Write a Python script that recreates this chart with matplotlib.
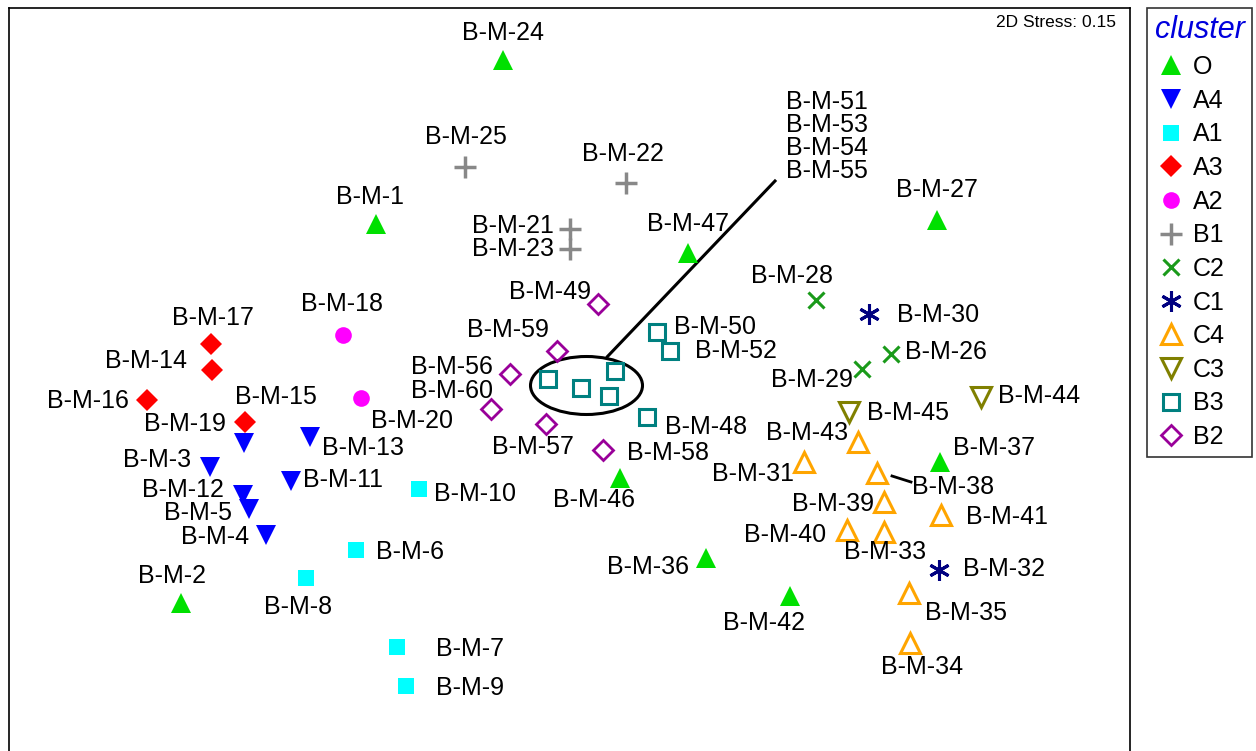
import matplotlib
matplotlib.use("Agg")
import matplotlib.pyplot as plt
from matplotlib.patches import Ellipse
from matplotlib.lines import Line2D

plt.rcParams['font.family'] = ['Liberation Sans', 'DejaVu Sans']

# NMDS ordination coordinates (arbitrary units; y grows downward)
names = ["B-M-24", "B-M-1", "B-M-47", "B-M-27", "B-M-2", "B-M-46", "B-M-36", "B-M-42", "B-M-37",
         "B-M-19", "B-M-13", "B-M-3", "B-M-11", "B-M-12", "B-M-5", "B-M-4",
         "B-M-10", "B-M-6", "B-M-8", "B-M-7", "B-M-9",
         "B-M-17", "B-M-14", "B-M-16", "B-M-15",
         "B-M-18", "B-M-20",
         "B-M-25", "B-M-22", "B-M-21", "B-M-23",
         "B-M-28", "B-M-26", "B-M-29",
         "B-M-30", "B-M-32",
         "B-M-43", "B-M-31", "B-M-38", "B-M-39", "B-M-40", "B-M-33", "B-M-41", "B-M-35", "B-M-34",
         "B-M-45", "B-M-44",
         "B-M-50", "B-M-52", "B-M-51", "B-M-53", "B-M-54", "B-M-55", "B-M-48",
         "B-M-49", "B-M-59", "B-M-56", "B-M-60", "B-M-57", "B-M-58"]
clusters = ["O"] * 9 + ["A4"] * 7 + ["A1"] * 5 + ["A3"] * 4 + ["A2"] * 2 + ["B1"] * 4 + \
           ["C2"] * 3 + ["C1"] * 2 + ["C4"] * 9 + ["C3"] * 2 + ["B3"] * 7 + ["B2"] * 6
mds1 = [503, 376, 688, 937, 181, 620, 706, 790, 940,
        244, 310, 210, 291, 243, 249, 266,
        419, 356, 306, 397, 406,
        211, 212, 147, 245,
        343, 361,
        465, 626, 570, 570,
        816, 891, 862,
        869, 939,
        858, 804, 877, 884, 847, 884, 941, 909, 910,
        849, 981,
        657, 670, 548, 581, 615, 609, 647,
        598, 557, 510, 491, 546, 603]
mds2 = [60, 224, 253, 220, 603, 478, 558, 596, 462,
        443, 437, 467, 481, 495, 509, 535,
        489, 550, 578, 647, 686,
        344, 370, 400, 422,
        335, 398,
        167, 183, 229, 249,
        300, 354, 369,
        314, 570,
        442, 462, 473, 502, 530, 532, 515, 593, 643,
        412, 397,
        332, 351, 379, 388, 371, 396, 417,
        304, 351, 374, 409, 424, 450]

# label placement (text centre) for each sample
label_x = {"B-M-24": 503, "B-M-1": 370, "B-M-47": 688, "B-M-27": 937, "B-M-2": 172, "B-M-46": 594,
           "B-M-36": 648, "B-M-42": 764, "B-M-37": 994,
           "B-M-19": 185, "B-M-13": 363, "B-M-3": 157, "B-M-11": 343, "B-M-12": 183, "B-M-5": 198, "B-M-4": 215,
           "B-M-10": 475, "B-M-6": 410, "B-M-8": 298, "B-M-7": 470, "B-M-9": 470,
           "B-M-17": 213, "B-M-14": 146, "B-M-16": 88, "B-M-15": 276,
           "B-M-18": 342, "B-M-20": 412,
           "B-M-25": 466, "B-M-22": 623, "B-M-21": 513, "B-M-23": 513,
           "B-M-28": 792, "B-M-26": 946, "B-M-29": 812,
           "B-M-30": 938, "B-M-32": 1004,
           "B-M-43": 807, "B-M-31": 753, "B-M-38": 953, "B-M-39": 833, "B-M-40": 785, "B-M-33": 885,
           "B-M-41": 1007, "B-M-35": 966, "B-M-34": 922,
           "B-M-45": 908, "B-M-44": 1039,
           "B-M-50": 715, "B-M-52": 736, "B-M-48": 706,
           "B-M-49": 550, "B-M-59": 508, "B-M-56": 452, "B-M-60": 452, "B-M-57": 533, "B-M-58": 668}
label_y = {"B-M-24": 33, "B-M-1": 197, "B-M-47": 224, "B-M-27": 190, "B-M-2": 576, "B-M-46": 500,
           "B-M-36": 567, "B-M-42": 623, "B-M-37": 448,
           "B-M-19": 424, "B-M-13": 448, "B-M-3": 460, "B-M-11": 480, "B-M-12": 490, "B-M-5": 513, "B-M-4": 537,
           "B-M-10": 494, "B-M-6": 552, "B-M-8": 607, "B-M-7": 649, "B-M-9": 688,
           "B-M-17": 318, "B-M-14": 361, "B-M-16": 401, "B-M-15": 397,
           "B-M-18": 304, "B-M-20": 421,
           "B-M-25": 137, "B-M-22": 154, "B-M-21": 226, "B-M-23": 249,
           "B-M-28": 276, "B-M-26": 352, "B-M-29": 380,
           "B-M-30": 315, "B-M-32": 569,
           "B-M-43": 433, "B-M-31": 474, "B-M-38": 487, "B-M-39": 504, "B-M-40": 535, "B-M-33": 552,
           "B-M-41": 517, "B-M-35": 613, "B-M-34": 667,
           "B-M-45": 413, "B-M-44": 396,
           "B-M-50": 327, "B-M-52": 351, "B-M-48": 427,
           "B-M-49": 292, "B-M-59": 330, "B-M-56": 367, "B-M-60": 391, "B-M-57": 447, "B-M-58": 453}
group_labels = ["B-M-51", "B-M-53", "B-M-54", "B-M-55"]
stress_text = "2D Stress: 0.15"

legend_order = ["O", "A4", "A1", "A3", "A2", "B1", "C2", "C1", "C4", "C3", "B3", "B2"]
styles = {
    "O":  dict(marker="^", color="#00e000", filled=True, ms=15),
    "A4": dict(marker="v", color="#0000ff", filled=True, ms=15),
    "A1": dict(marker="s", color="#00ffff", filled=True, ms=11),
    "A3": dict(marker="D", color="#ff0000", filled=True, ms=11),
    "A2": dict(marker="o", color="#ff00ff", filled=True, ms=12),
    "B1": dict(marker="+", color="#888888", filled=True, ms=16, mew=2.5),
    "C2": dict(marker="x", color="#1a9a1a", filled=True, ms=11, mew=2.2),
    "C1": dict(marker=(6, 2, 0), color="#000080", filled=True, ms=15, mew=2.2),
    "C4": dict(marker="^", color="#ffa500", filled=False, ms=15, mew=2.2),
    "C3": dict(marker="v", color="#808000", filled=False, ms=15, mew=2.2),
    "B3": dict(marker="s", color="#008080", filled=False, ms=11, mew=2.2),
    "B2": dict(marker="D", color="#990099", filled=False, ms=10, mew=2.0),
}


def style_kwargs(c):
    s = styles[c]
    kw = dict(marker=s["marker"], ms=s["ms"], linestyle="none")
    if s["filled"]:
        kw.update(color=s["color"], mec=s["color"], mew=s.get("mew", 0))
    else:
        kw.update(mfc="none", mec=s["color"], mew=s.get("mew", 2))
    return kw


W, H = 1256, 751
fig = plt.figure(figsize=(W / 100, H / 100), dpi=100)
ax = fig.add_axes([9 / W, -6 / H, (1130 - 9) / W, (751 + 6 - 8) / H])
ax.set_xlim(9, 1130)
ax.set_ylim(757, 8)
ax.set_xticks([])
ax.set_yticks([])
for sp in ax.spines.values():
    sp.set_linewidth(1.2)
    sp.set_color("black")

for c in legend_order:
    xs = [x for x, cc in zip(mds1, clusters) if cc == c]
    ys = [y for y, cc in zip(mds2, clusters) if cc == c]
    ax.plot(xs, ys, **style_kwargs(c), zorder=3)

FS = 18
for n in names:
    if n in label_x:
        ax.text(label_x[n], label_y[n], n, fontsize=FS, ha="center", va="center")

# group annotation for the four overlapping B3 samples
grp = [i for i, n in enumerate(names) if n in group_labels]
gx = [mds1[i] for i in grp]
gy = [mds2[i] for i in grp]
cx = (min(gx) + max(gx)) / 2 + 5
cy = (min(gy) + max(gy)) / 2 + 2
ax.add_patch(Ellipse((cx, cy), 112, 58, fill=False, edgecolor="black", lw=2.2, zorder=2))
ax.plot([cx + 21, 775], [cy - 29, 181], color="black", lw=2.2)
for k, n in enumerate(group_labels):
    ax.text(827, 102 + k * 23, n, fontsize=FS, ha="center", va="center")

# leader line for B-M-38
ax.plot([892, 911], [476, 482], color="black", lw=2)

ax.text(1116, 22, stress_text, fontsize=12.5, ha="right", va="center")

handles = [Line2D([], [], **style_kwargs(c)) for c in legend_order]
leg = fig.legend(handles, legend_order, loc="upper left",
                 bbox_to_anchor=(1147 / W, 1 - 8 / H), borderaxespad=0,
                 fontsize=FS, title="cluster", frameon=True, fancybox=False,
                 labelspacing=0.385, handletextpad=0.25, handlelength=1.3,
                 borderpad=0.3, alignment="left")
leg.get_frame().set_edgecolor("black")
leg.get_frame().set_linewidth(1.2)
leg.get_title().set_color("#0000dd")
leg.get_title().set_fontstyle("italic")
leg.get_title().set_fontsize(22)

fig.savefig("out.png", dpi=100)
